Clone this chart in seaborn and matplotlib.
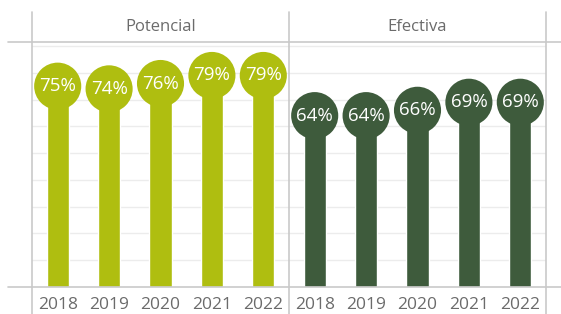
import numpy as np
import pandas as pd
import seaborn as sns
import matplotlib.pyplot as plt

years = ["2018", "2019", "2020", "2021", "2022"]
potencial = [75, 74, 76, 79, 79]
efectiva = [64, 64, 66, 69, 69]
groups = ["Potencial", "Efectiva"]
colors = {"Potencial": "#afbe10", "Efectiva": "#3e5b3c"}

df = pd.DataFrame({
    "grupo": ["Potencial"] * 5 + ["Efectiva"] * 5,
    "year": years + years,
    "valor": potencial + efectiva,
})
df["cat"] = df["grupo"] + " " + df["year"]

sns.set_style("white")
plt.rcParams["font.family"] = ["Open Sans", "DejaVu Sans"]

fig = plt.figure(figsize=(5.61, 3.14), dpi=100)
ax = fig.add_axes([32 / 561, 27 / 314, 514 / 561, 245 / 314])

sns.barplot(data=df, x="cat", y="valor", hue="grupo", palette=colors,
            dodge=False, width=0.43, legend=False, saturation=1, ax=ax)

pos = np.arange(len(df))
ax.scatter(pos, df["valor"], s=1150, c=[colors[g] for g in df["grupo"]],
           zorder=3, linewidths=0)
for x, v in zip(pos, df["valor"]):
    ax.text(x, v, f"{v}%", color="white", ha="center", va="center",
            fontsize=13.5, zorder=4)

ax.set_xlim(-0.5, 9.5)
ax.set_ylim(0, 91.5)
ax.set_yticks([])
for g in range(10, 100, 10):
    ax.axhline(g, color="#ececec", lw=1, zorder=0)

ax.set_xticks(pos)
ax.set_xticklabels(df["year"], color="#6b6b6b", fontsize=12.5)
ax.tick_params(axis="x", length=0, pad=7)
ax.set_xlabel("")
ax.set_ylabel("")
for s in ax.spines.values():
    s.set_visible(False)

line_c = "#c9c9c9"
for xa in [0, 0.5, 1]:
    ax.plot([xa, xa], [-0.11, 1.122], transform=ax.transAxes, color=line_c,
            lw=1.2, clip_on=False, zorder=5)
for ya in [0, 1]:
    ax.plot([-0.047, 1.03], [ya, ya], transform=ax.transAxes, color=line_c,
            lw=1.2, clip_on=False, zorder=5)

for i, g in enumerate(groups):
    ax.text(0.25 + 0.5 * i, 1.062, g, transform=ax.transAxes, ha="center",
            va="center", color="#6b6b6b", fontsize=12)

fig.savefig("out.png", dpi=100)
